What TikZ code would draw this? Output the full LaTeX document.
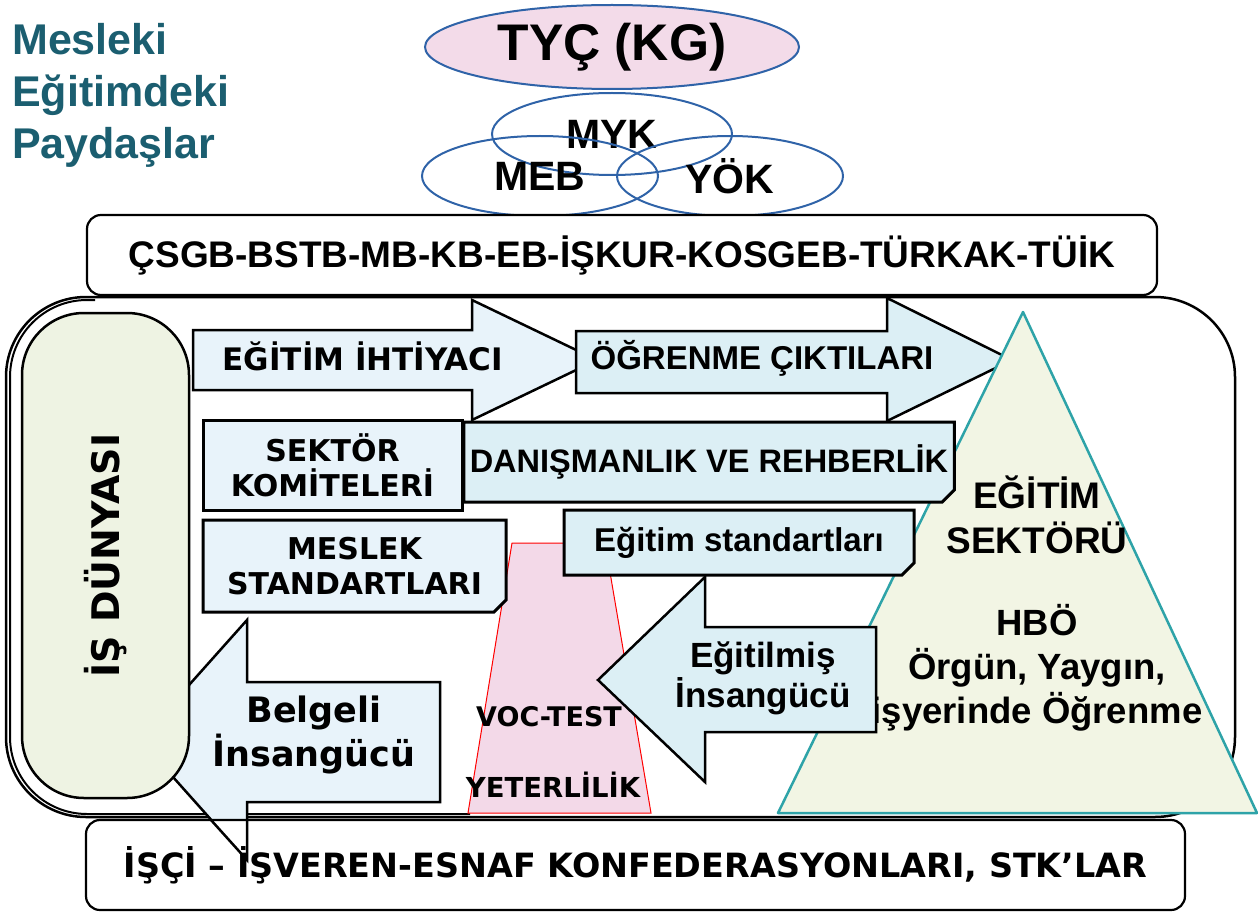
\documentclass[tikz,border=0pt]{standalone}
\usepackage{fontspec}
\setmainfont{Liberation Sans}
\newfontfamily\verdfont{DejaVu Sans}
\usetikzlibrary{shapes.geometric,shapes.misc}

\definecolor{titleteal}{HTML}{1B5E70}
\definecolor{ellblue}{HTML}{2F63A8}
\definecolor{ellpink}{HTML}{F3DBE9}
\definecolor{paleblue}{HTML}{E8F3FA}
\definecolor{paleaqua}{HTML}{DCEFF5}
\definecolor{palegreen}{HTML}{EEF3E3}
\definecolor{trifill}{HTML}{F2F5E4}
\definecolor{triteal}{HTML}{2EA3A8}
\definecolor{vocpink}{HTML}{F3D9E8}

\newcommand{\pxsize}[2]{\fontsize{#1}{#2}\selectfont}

\tikzset{
  org/.style={ellipse, draw=ellblue, line width=2pt, inner sep=0pt},
  panel/.style={draw, rounded corners=14pt, line width=2.2pt, fill=white, inner sep=0pt},
  card/.style={draw, line width=3pt, fill=paleblue, align=center, inner sep=0pt},
  snipcard/.style={chamfered rectangle, chamfered rectangle corners=south east,
    chamfered rectangle xsep=6pt, chamfered rectangle ysep=6pt,
    draw, line width=3pt, fill=paleaqua, align=center, inner sep=0pt},
  blockarrow/.style={draw, line width=2.5pt, line join=miter},
  lbl/.style={align=center, inner sep=0pt},
}

\begin{document}
\begin{tikzpicture}[x=1pt,y=-1pt]
  \useasboundingbox (0,0) rectangle (1258,912);
  % title, top left
  \node[lbl, anchor=north west, align=left, text=titleteal,
    font=\bfseries\pxsize{43}{52}] (title) at (12,23) {Mesleki\\Eğitimdeki\\Paydaşlar};

  % qualification bodies
  \node[org, fill=ellpink, minimum width=374pt, minimum height=84pt,
    font=\bfseries\pxsize{51.5}{51.5}] (tyc) at (612,47) {TYÇ (KG)};
  \node[org, minimum width=240pt, minimum height=82pt,
    font=\bfseries\pxsize{41}{41}] (myk) at (612,134) {MYK};
  \node[org, minimum width=236pt, minimum height=80pt,
    font=\bfseries\pxsize{41}{41}] (meb) at (540,176) {MEB};
  \node[org, minimum width=226pt, minimum height=80pt,
    font=\bfseries\pxsize{41}{41}] (yok) at (730,176) {YÖK};

  % ministries
  \node[panel, minimum width=1070pt, minimum height=80pt,
    font=\bfseries\pxsize{37}{37}] (kurum) at (622,255) {ÇSGB-BSTB-MB-KB-EB-İŞKUR-KOSGEB-TÜRKAK-TÜİK};

  % big frame
  \draw[line width=2.5pt, rounded corners=80pt] (6,297) rectangle (1235,817);
  \draw[line width=2pt, rounded corners=77pt] (95,300) -- (10,300) -- (10,814) -- (470,814);

  % needs -> outcomes
  \filldraw[blockarrow, fill=paleblue] (193,330) -- (472,330) -- (472,300) -- (597,360)
    -- (472,420) -- (472,390) -- (193,390) -- cycle;
  \node[lbl, font=\verdfont\bfseries\pxsize{31}{31}] (ihtiyac) at (363,356) {EĞİTİM İHTİYACI};
  \filldraw[blockarrow, fill=paleaqua] (576,331) -- (887,331) -- (887,298) -- (1012,360)
    -- (887,421) -- (887,393) -- (576,393) -- cycle;
  \node[lbl, font=\bfseries\pxsize{33}{33}] (cikti) at (762,358) {ÖĞRENME ÇIKTILARI};

  % education sector
  \filldraw[draw=triteal, fill=trifill, line width=2.5pt, line join=round]
    (778,813) -- (1023,312) -- (1257,813) -- cycle;
  \node[lbl, font=\bfseries\pxsize{37}{45}] (egsektor) at (1037,515) {EĞİTİM\\SEKTÖRÜ};
  \node[lbl, font=\bfseries\pxsize{36.5}{44}] (hbo) at (1037,668) {HBÖ\\Örgün, Yaygın,\\işyerinde Öğrenme};

  % vocational test
  \filldraw[draw=red, fill=vocpink, line width=1pt] (468,813) -- (512,543) -- (605,543)
    -- (651,813) -- cycle;
  \node[lbl, font=\verdfont\bfseries\pxsize{27}{27}] (voc) at (549,717) {VOC-TEST};
  \node[lbl, font=\verdfont\bfseries\pxsize{27.5}{27.5}] (yeter) at (553,785) {YETERLİLİK};

  % boxes in the middle
  \node[card, minimum width=259pt, minimum height=90pt,
    font=\verdfont\bfseries\pxsize{30}{35}] (komite) at (332.5,465) {SEKTÖR\\KOMİTELERİ};
  \node[snipcard, fill=paleblue, minimum width=303pt, minimum height=92pt,
    font=\verdfont\bfseries\pxsize{30}{35}] (meslek) at (354.5,566) {MESLEK\\STANDARTLARI};
  \node[snipcard, minimum width=486pt, minimum height=80pt,
    font=\bfseries\pxsize{32.5}{32.5}] (rehber) at (709,462) {DANIŞMANLIK VE REHBERLİK};
  \node[snipcard, minimum width=350pt, minimum height=65pt,
    font=\bfseries\pxsize{33}{33}] (egstd) at (739,542.5) {Eğitim standartları};

  % trained people go back
  \filldraw[blockarrow, fill=paleaqua] (876,627) -- (705,627) -- (705,577) -- (598,680)
    -- (705,782) -- (705,732) -- (876,732) -- cycle;
  \node[lbl, font=\bfseries\pxsize{35}{40}] (egitilmis) at (763,678) {Eğitilmiş\\İnsangücü};

  % certified people -> world of work
  \filldraw[blockarrow, fill=paleblue] (440,682) -- (247,682) -- (247,620) -- (140,740)
    -- (247,860) -- (247,802) -- (440,802) -- cycle;
  \node[lbl, font=\verdfont\bfseries\pxsize{35}{44}] (belgeli) at (314,735) {Belgeli\\İnsangücü};

  \node[draw, line width=2.5pt, fill=palegreen, rounded corners=62pt,
    minimum width=167pt, minimum height=485pt, inner sep=0pt,
    font=\verdfont\bfseries\pxsize{38}{38}] (isdunya) at (105.5,555.5)
    {\rotatebox{90}{İŞ DÜNYASI}};

  % confederations
  \node[panel, minimum width=1099pt, minimum height=90pt,
    font=\verdfont\bfseries\pxsize{33.4}{33.4}] (konf) at (635.5,865) {İŞÇİ – İŞVEREN-ESNAF KONFEDERASYONLARI, STK’LAR};
  \draw[blockarrow] (211,820) -- (247,860) -- (247,820);
\end{tikzpicture}
\end{document}
